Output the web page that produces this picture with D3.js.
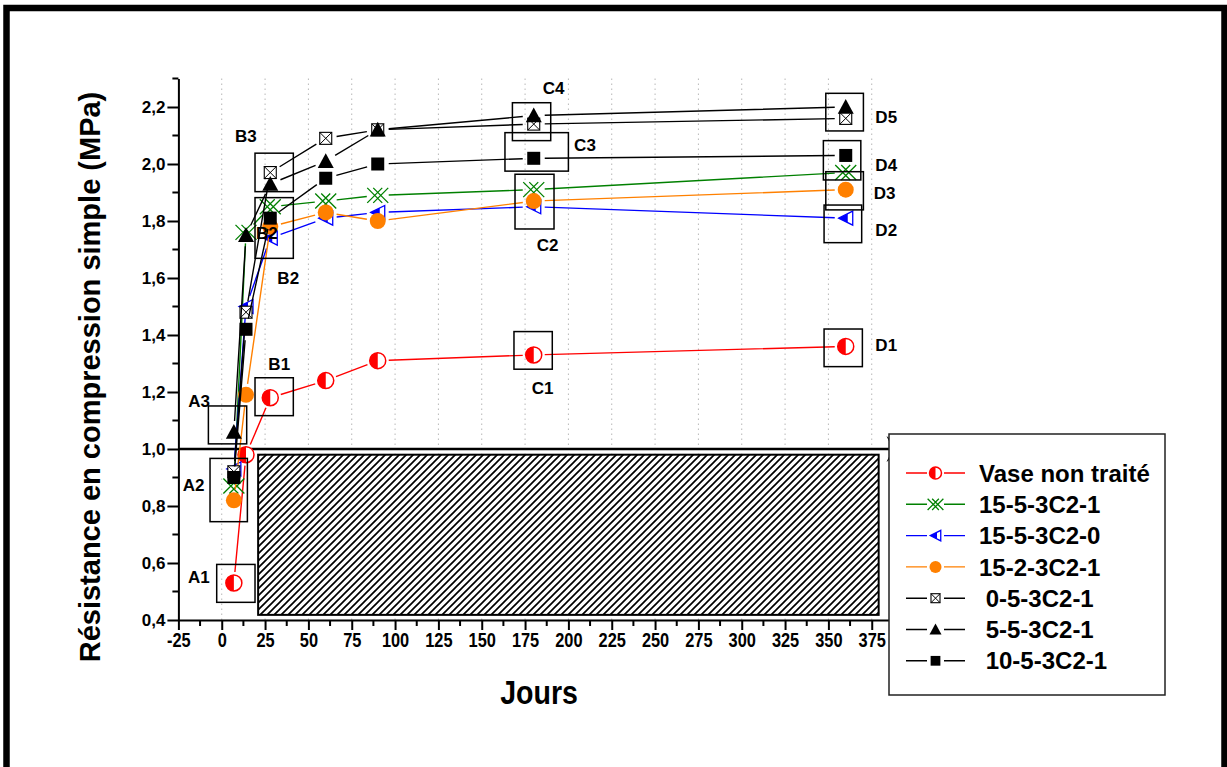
<!DOCTYPE html>
<html><head><meta charset="utf-8">
<script src="https://cdn.jsdelivr.net/npm/d3@7"></script>
<style>body{margin:0;background:#fff;} svg{display:block}</style>
</head><body><svg id="c" width="1227" height="767"></svg>
<script>
// ---------- DATA ----------
const days = [7, 14, 28, 60, 90, 180, 360];
const seriesNames = ["Vase non traité", "15-5-3C2-1", "15-5-3C2-0", "15-2-3C2-1", "0-5-3C2-1", "5-5-3C2-1", "10-5-3C2-1"];
const legendLabels = ["Vase non traité", "15-5-3C2-1", "15-5-3C2-0", "15-2-3C2-1", " 0-5-3C2-1", " 5-5-3C2-1", " 10-5-3C2-1"];
const vaseNonTraite = [0.53, 0.98, 1.18, 1.24, 1.31, 1.33, 1.36];
const s15_5_3C2_1   = [0.87, 1.76, 1.85, 1.87, 1.89, 1.91, 1.97];
const s15_5_3C2_0   = [0.93, 1.50, 1.74, 1.81, 1.83, 1.85, 1.81];
const s15_2_3C2_1   = [0.82, 1.19, 1.78, 1.83, 1.80, 1.87, 1.91];
const s0_5_3C2_1    = [0.92, 1.48, 1.97, 2.09, 2.12, 2.14, 2.16];
const s5_5_3C2_1    = [1.06, 1.75, 1.93, 2.01, 2.12, 2.17, 2.20];
const s10_5_3C2_1   = [0.90, 1.42, 1.81, 1.95, 2.00, 2.02, 2.03];
const xTickValues = [-25, 0, 25, 50, 75, 100, 125, 150, 175, 200, 225, 250, 275, 300, 325, 350, 375];
const xMinorValues = [-12.5, 12.5, 37.5, 62.5, 87.5, 112.5, 137.5, 162.5, 187.5, 212.5, 237.5, 262.5, 287.5, 312.5, 337.5, 362.5, 387.5];
const yTickValues = [0.4, 0.6, 0.8, 1.0, 1.2, 1.4, 1.6, 1.8, 2.0, 2.2];
const yMinorValues = [0.5, 0.7, 0.9, 1.1, 1.3, 1.5, 1.7, 1.9, 2.1, 2.3];
const gridValues = [0, 25, 50, 75, 100, 125, 150, 175, 200, 225, 250, 275, 300, 325, 350, 375];
// annotation boxes: [day0, day1, val0, val1]
const annotBoxes = [
  [-2.9, 19.2, 0.595, 0.462], [-6.75, 14.8, 0.967, 0.745], [-7.7, 14.4, 1.151, 1.018],
  [19.2, 41.3, 1.250, 1.117], [19.2, 41.3, 1.882, 1.669], [19.2, 41.3, 2.038, 1.903],
  [168.6, 190.7, 1.412, 1.280], [169.2, 191.7, 1.964, 1.772], [163.4, 200.0, 2.110, 1.975],
  [167.7, 189.8, 2.215, 2.082], [347.5, 369.6, 1.421, 1.289], [347.5, 369.2, 1.856, 1.724],
  [348.5, 370.2, 1.973, 1.839], [347.1, 368.7, 2.082, 1.944], [348.5, 370.2, 2.248, 2.116]
];
// annotation labels: [text, day(left), value(center)]
const annotLabels = [
  ["A1", -19.4, 0.552], ["A2", -22.5, 0.874], ["A3", -19.3, 1.168],
  ["B1", 26.9, 1.298], ["B2", 19.8, 1.759], ["B2", 32.1, 1.599], ["B3", 7.7, 2.098],
  ["C1", 178.8, 1.213], ["C2", 181.7, 1.716], ["C3", 203.3, 2.067], ["C4", 185.2, 2.266],
  ["D1", 377.1, 1.365], ["D2", 377.1, 1.768], ["D3", 376.1, 1.897], ["D4", 377.1, 1.996], ["D5", 377.1, 2.166]
];
const refValue = 1.0;
const hatchBox = [21, 379, 0.98, 0.418];

// ---------- SETUP ----------
const svg = d3.select('#c');
const FONT = "'Liberation Sans', Arial, Helvetica, sans-serif";
const x = d3.scaleLinear().domain([-25, 389]).range([178.4, 896]);
const y = d3.scaleLinear().domain([0.4, 2.3]).range([620, 78.5]);

const series = [
  {name: seriesNames[0], values: vaseNonTraite, color: '#ff0000', sym: 'halfcircle'},
  {name: seriesNames[1], values: s15_5_3C2_1, color: '#008000', sym: 'xdiamond'},
  {name: seriesNames[2], values: s15_5_3C2_0, color: '#0000ff', sym: 'halftri'},
  {name: seriesNames[3], values: s15_2_3C2_1, color: '#ff8000', sym: 'circle'},
  {name: seriesNames[4], values: s0_5_3C2_1, color: '#000000', sym: 'xsquare'},
  {name: seriesNames[5], values: s5_5_3C2_1, color: '#000000', sym: 'triangle'},
  {name: seriesNames[6], values: s10_5_3C2_1, color: '#000000', sym: 'square'}
];

const defs = svg.append('defs');
const pat = defs.append('pattern').attr('id', 'hatch').attr('patternUnits', 'userSpaceOnUse')
  .attr('width', 7).attr('height', 7);
pat.append('rect').attr('width', 7).attr('height', 7).attr('fill', '#fff');
pat.append('path').attr('d', 'M0,7 L7,0 M-1,1 L1,-1 M6,8 L8,6').attr('stroke', '#000').attr('stroke-width', 1.7);

// grid
svg.append('g').selectAll('line').data(gridValues).join('line')
  .attr('x1', d => x(d)).attr('x2', d => x(d)).attr('y1', y(2.3)).attr('y2', y(0.4))
  .attr('stroke', '#b8b8b8').attr('stroke-width', 1).attr('stroke-dasharray', '1.5,3.5');

// hatched rectangle
svg.append('rect').attr('x', x(hatchBox[0])).attr('y', y(hatchBox[2]))
  .attr('width', x(hatchBox[1]) - x(hatchBox[0])).attr('height', y(hatchBox[3]) - y(hatchBox[2]))
  .attr('fill', 'url(#hatch)').attr('stroke', '#000').attr('stroke-width', 2);

// reference line at 1.0 with arrow
svg.append('line').attr('x1', x(-25)).attr('x2', x(387)).attr('y1', y(refValue)).attr('y2', y(refValue))
  .attr('stroke', '#000').attr('stroke-width', 2.5);
{
  const ax = x(387), ay = y(refValue);
  svg.append('path').attr('d', `M${ax+10},${ay} L${ax-6},${ay-13} L${ax},${ay} L${ax-6},${ay+13} Z`).attr('fill', '#000');
}

// axes
const fmt = d => d.toFixed(1).replace('.', ',');
const gy = svg.append('g').attr('transform', `translate(${x(-25)},0)`)
  .call(d3.axisLeft(y).tickValues(yTickValues).tickSize(11).tickSizeOuter(0).tickPadding(2).tickFormat(fmt));
gy.select('.domain').attr('stroke-width', 2);
gy.selectAll('.tick line').attr('stroke-width', 2);
gy.selectAll('text').attr('font-family', FONT).attr('font-weight', 'bold').attr('font-size', 17).attr('fill', '#000');
gy.selectAll('.minor').data(yMinorValues).join('line').attr('class', 'minor')
  .attr('x1', 0).attr('x2', -6).attr('y1', d => y(d)).attr('y2', d => y(d)).attr('stroke', '#000').attr('stroke-width', 2);

const gx = svg.append('g').attr('transform', `translate(0,${y(0.4)})`)
  .call(d3.axisBottom(x).tickValues(xTickValues).tickSize(10).tickSizeOuter(0).tickPadding(3).tickFormat(d => String(d)));
gx.select('.domain').attr('stroke-width', 2);
gx.selectAll('.tick line').attr('stroke-width', 2);
gx.selectAll('text').attr('font-family', FONT).attr('font-weight', 'bold').attr('font-size', 20)
  .attr('fill', '#000').attr('transform', 'scale(0.82,1)');
gx.selectAll('.minor').data(xMinorValues).join('line').attr('class', 'minor')
  .attr('x1', d => x(d)).attr('x2', d => x(d)).attr('y1', 0).attr('y2', 6).attr('stroke', '#000').attr('stroke-width', 2);

// axis titles
svg.append('text').attr('transform', `translate(100,377) rotate(-90)`).attr('text-anchor', 'middle')
  .attr('font-family', FONT).attr('font-weight', 'bold').attr('font-size', 29).text('Résistance en compression simple (MPa)');
svg.append('text').attr('transform', 'translate(539,704) scale(0.84,1)').attr('text-anchor', 'middle')
  .attr('font-family', FONT).attr('font-weight', 'bold').attr('font-size', 34).text('Jours');

// symbols
function drawSym(g, type, color, s) {
  if (type === 'halfcircle') {
    const r = 8 * s;
    g.append('circle').attr('r', r).attr('fill', '#fff').attr('stroke', color).attr('stroke-width', 1.5);
    g.append('path').attr('d', `M0,${-r} A${r},${r} 0 0,0 0,${r} Z`).attr('fill', color);
  } else if (type === 'xdiamond') {
    const h = 7.5 * s, o = 3 * s;
    g.append('path').attr('d',
      `M${-o-h},${-h} L${-o+h},${h} M${-o-h},${h} L${-o+h},${-h} M${o-h},${-h} L${o+h},${h} M${o-h},${h} L${o+h},${-h}`)
      .attr('stroke', color).attr('stroke-width', 1.3).attr('fill', 'none');
  } else if (type === 'halftri') {
    const w = 7 * s, hh = 7 * s;
    g.append('path').attr('d', `M${-w},0 L${w},${-hh} L${w},${hh} Z`).attr('fill', '#fff').attr('stroke', color).attr('stroke-width', 1.3);
    const fx = 2 * s, fy = hh * (fx + w) / (2 * w);
    g.append('path').attr('d', `M${-w},0 L${fx},${-fy} L${fx},${fy} Z`).attr('fill', color);
  } else if (type === 'circle') {
    g.append('circle').attr('r', 8 * s).attr('fill', color);
  } else if (type === 'xsquare') {
    const a = 6 * s;
    g.append('rect').attr('x', -a).attr('y', -a).attr('width', 2 * a).attr('height', 2 * a)
      .attr('fill', '#fff').attr('stroke', color).attr('stroke-width', 1.1);
    g.append('path').attr('d', `M${-a},${-a} L${a},${a} M${-a},${a} L${a},${-a}`).attr('stroke', color).attr('stroke-width', 1);
  } else if (type === 'triangle') {
    const a = 8 * s;
    g.append('path').attr('d', `M0,${-a} L${a},${a * 0.85} L${-a},${a * 0.85} Z`).attr('fill', color);
  } else if (type === 'square') {
    const a = 6.5 * s;
    g.append('rect').attr('x', -a).attr('y', -a).attr('width', 2 * a).attr('height', 2 * a).attr('fill', color);
  }
}

// series
const GAP = 11;
series.forEach(se => {
  const pts = days.map((d, i) => [x(d), y(se.values[i])]);
  let dstr = '';
  for (let i = 0; i < pts.length - 1; i++) {
    const [x1, y1] = pts[i], [x2, y2] = pts[i + 1];
    const dx = x2 - x1, dy = y2 - y1, L = Math.hypot(dx, dy);
    if (L <= 2 * GAP) continue;
    const ux = dx / L, uy = dy / L;
    dstr += `M${x1 + ux * GAP},${y1 + uy * GAP} L${x2 - ux * GAP},${y2 - uy * GAP} `;
  }
  const g = svg.append('g');
  g.append('path').attr('d', dstr).attr('stroke', se.color).attr('stroke-width', 1.4).attr('fill', 'none');
  pts.forEach(p => drawSym(g.append('g').attr('transform', `translate(${p[0]},${p[1]})`), se.sym, se.color, 1));
});

// annotation boxes and labels
svg.append('g').selectAll('rect').data(annotBoxes).join('rect')
  .attr('x', d => x(d[0])).attr('y', d => y(d[2]))
  .attr('width', d => x(d[1]) - x(d[0])).attr('height', d => y(d[3]) - y(d[2]))
  .attr('fill', 'none').attr('stroke', '#000').attr('stroke-width', 1.5);
svg.append('g').selectAll('text').data(annotLabels).join('text')
  .attr('x', d => x(d[1])).attr('y', d => y(d[2])).attr('dy', '0.36em')
  .attr('font-family', FONT).attr('font-weight', 'bold').attr('font-size', 17).text(d => d[0]);

// legend
const lg = svg.append('g');
lg.append('rect').attr('x', 889).attr('y', 434).attr('width', 276).attr('height', 261)
  .attr('fill', '#fff').attr('stroke', '#222').attr('stroke-width', 1.5);
series.forEach((se, i) => {
  const ry = 473 + i * 31.3;
  lg.append('path').attr('d', `M906,${ry} L927,${ry} M944,${ry} L965,${ry}`).attr('stroke', se.color).attr('stroke-width', 1.4);
  drawSym(lg.append('g').attr('transform', `translate(935.5,${ry})`), se.sym, se.color, 0.75);
  lg.append('text').attr('x', 979).attr('y', ry).attr('dy', '0.36em').style('white-space', 'pre')
    .attr('font-family', FONT).attr('font-weight', 'bold').attr('font-size', 24).text(legendLabels[i]);
});

// outer frame
svg.append('rect').attr('x', 6.5).attr('y', 8).attr('width', 1218).attr('height', 790)
  .attr('fill', 'none').attr('stroke', '#000').attr('stroke-width', 6.5);
</script></body></html>
